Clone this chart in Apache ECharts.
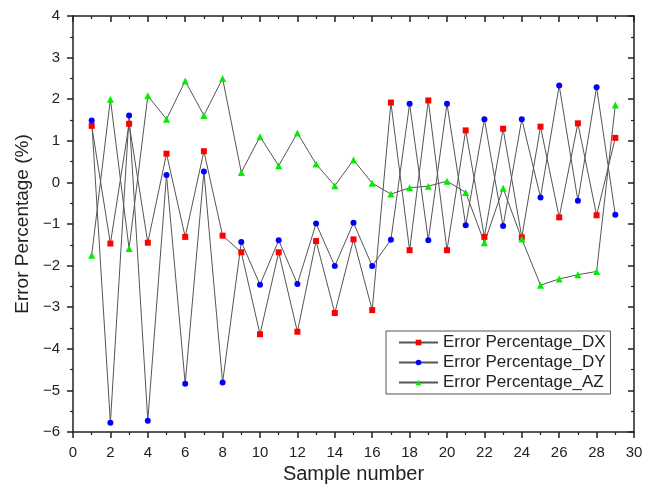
<!DOCTYPE html>
<html><head><meta charset="utf-8">
<script src="https://cdn.jsdelivr.net/npm/echarts@6/dist/echarts.min.js"></script>
<style>html,body{margin:0;padding:0;background:#fff}#c{width:655px;height:487px}</style>
</head><body><div id="c"></div>
<script>
const samples = [1,2,3,4,5,6,7,8,9,10,11,12,13,14,15,16,17,18,19,20,21,22,23,24,25,26,27,28,29];
const dx = [1.36,-1.47,1.41,-1.45,0.69,-1.31,0.75,-1.28,-1.68,-3.65,-1.68,-3.59,-1.41,-3.14,-1.37,-3.07,1.92,-1.63,1.97,-1.63,1.25,-1.31,1.29,-1.32,1.34,-0.84,1.42,-0.79,1.07];
const dy = [1.49,-5.78,1.61,-5.73,0.18,-4.84,0.26,-4.81,-1.43,-2.46,-1.39,-2.44,-0.99,-2.01,-0.97,-2.01,-1.38,1.89,-1.39,1.89,-1.03,1.52,-1.05,1.52,-0.36,2.33,-0.44,2.29,-0.78];
const az = [-1.75,2.0,-1.59,2.08,1.52,2.44,1.61,2.5,0.24,1.1,0.4,1.19,0.44,-0.08,0.54,-0.02,-0.28,-0.13,-0.09,0.03,-0.24,-1.45,-0.14,-1.36,-2.47,-2.32,-2.22,-2.14,1.86];
const seriesNames = ['Error Percentage_DX','Error Percentage_DY','Error Percentage_AZ'];

const chart = echarts.init(document.getElementById('c'), null, {renderer:'canvas'});
const font = 'Liberation Sans, Arial, sans-serif';
const axisLineStyle = {color:'#222', width:1.5};
function mk(name, data, color, symbol, size){
  return {
    name, type:'line', data: samples.map((s,i)=>[s,data[i]]),
    symbol, symbolSize:size, showSymbol:true,
    itemStyle:{color},
    lineStyle:{color:'#555', width:1},
    xAxisIndex:0, yAxisIndex:0, animation:false
  };
}
const minus = v => (v < 0 ? '\u2212' + Math.abs(v) : String(v));
chart.setOption({
  animation:false,
  backgroundColor:'#fff',
  grid:{left:73, right:21, top:16, bottom:55, containLabel:false, outerBoundsMode:'none'},
  legend:{
    orient:'vertical', left:386, top:331,
    data: seriesNames,
    borderColor:'#555', borderWidth:1, padding:[3,5,3,12],
    itemGap:3, itemWidth:39, itemHeight:7,
    textStyle:{fontFamily:font, fontSize:17, color:'#222'},
    align:'left'
  },
  xAxis:[{
    type:'value', min:0, max:30, interval:2, position:'bottom',
    name:'Sample number', nameLocation:'middle', nameGap:31,
    nameTextStyle:{fontFamily:font, fontSize:20, color:'#222'},
    axisLine:{onZero:false, lineStyle:axisLineStyle},
    axisTick:{inside:false, length:6, lineStyle:axisLineStyle},
    minorTick:{show:true, splitNumber:2, length:3, lineStyle:{color:'#222', width:1.2}},
    axisLabel:{fontFamily:font, fontSize:15, color:'#222', margin:13},
    splitLine:{show:false}
  },{
    type:'value', min:0, max:30, interval:2, position:'top',
    axisLine:{onZero:false, lineStyle:axisLineStyle},
    axisTick:{inside:true, length:6, lineStyle:axisLineStyle},
    minorTick:{show:true, splitNumber:2, length:3, lineStyle:{color:'#222', width:1.2}},
    axisLabel:{show:false}, splitLine:{show:false}
  }],
  yAxis:[{
    type:'value', min:-6, max:4, interval:1, position:'left',
    name:'Error Percentage (%)', nameLocation:'middle', nameGap:39, nameRotate:90,
    nameTextStyle:{fontFamily:font, fontSize:19, color:'#222'},
    axisLine:{onZero:false, lineStyle:axisLineStyle},
    axisTick:{inside:false, length:6, lineStyle:axisLineStyle},
    minorTick:{show:true, splitNumber:2, length:3, lineStyle:{color:'#222', width:1.2}},
    axisLabel:{fontFamily:font, fontSize:15, color:'#222', margin:13, formatter:minus},
    splitLine:{show:false}
  },{
    type:'value', min:-6, max:4, interval:1, position:'right',
    axisLine:{onZero:false, lineStyle:axisLineStyle},
    axisTick:{inside:true, length:6, lineStyle:axisLineStyle},
    minorTick:{show:true, splitNumber:2, length:3, lineStyle:{color:'#222', width:1.2}},
    axisLabel:{show:false}, splitLine:{show:false}
  }],
  series:[
    mk(seriesNames[0], dx, '#ff0000', 'rect', 6),
    mk(seriesNames[1], dy, '#0000ff', 'circle', 6),
    mk(seriesNames[2], az, '#00ee00', 'triangle', 7)
  ]
});
</script></body></html>
